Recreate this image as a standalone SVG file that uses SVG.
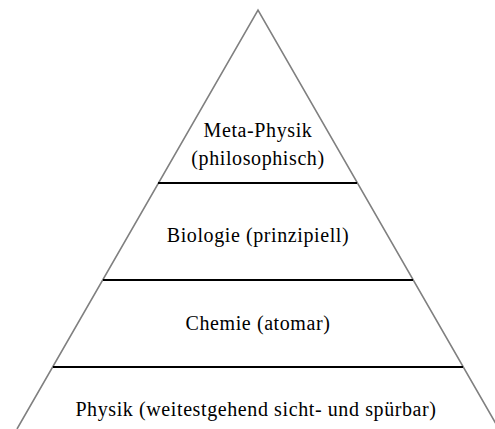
<svg xmlns="http://www.w3.org/2000/svg" width="495" height="429" viewBox="0 0 495 429">
<style>
.side{stroke:#808080;stroke-width:1.6;fill:none}
.div{stroke:#000;stroke-width:2.2}
text{font-family:"Liberation Serif","Times New Roman",serif;font-size:20px;letter-spacing:0.6px;fill:#000;text-anchor:middle}
</style>
<rect width="495" height="429" fill="#fff"/>
<g id="connectors">
<polyline class="side" points="17,429 258,10 499,429"/>
<line id="d1" class="div" x1="158" y1="183" x2="357" y2="183"/>
<line id="d2" class="div" x1="103" y1="280" x2="413" y2="280"/>
<line id="d3" class="div" x1="53" y1="367" x2="463" y2="367"/>
</g>
<g id="meta"><text x="258" y="137">Meta-Physik</text><text x="258" y="165">(philosophisch)</text></g>
<g id="bio"><text x="258" y="242">Biologie (prinzipiell)</text></g>
<g id="chem"><text x="258" y="330">Chemie (atomar)</text></g>
<g id="phys"><text x="256" y="416">Physik (weitestgehend sicht- und spürbar)</text></g>
</svg>
